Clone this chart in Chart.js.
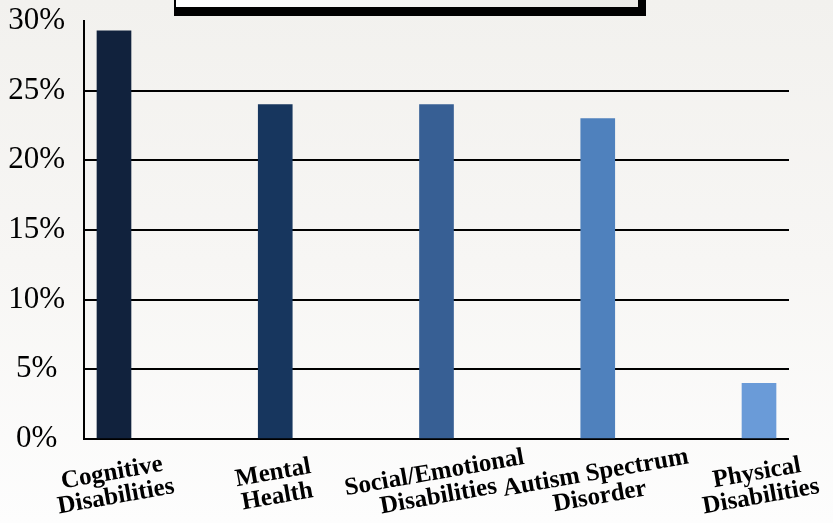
<!DOCTYPE html>
<html>
<head>
<meta charset="utf-8">
<script src="https://cdn.jsdelivr.net/npm/chart.js@4"></script>
<style>
  html, body { margin: 0; padding: 0; }
  body {
    width: 833px; height: 523px; overflow: hidden; position: relative;
    background: linear-gradient(to bottom, #f2f1ee 0%, #f7f6f4 50%, #fdfdfd 100%);
  }
  #wrap { position: absolute; left: 0; top: 0; width: 833px; height: 523px; }
  #titlebox {
    position: absolute; left: 174px; top: -30px; width: 462px; height: 37px;
    background: linear-gradient(to right, #ffffff, #ebeae6);
    border-left: 2px solid #000; border-right: 8px solid #000; border-bottom: 9px solid #000;
    z-index: 2;
  }
</style>
</head>
<body>
<div id="wrap"><canvas id="c" width="833" height="523"></canvas></div>
<div id="titlebox"></div>
<script>
const categories = [
  ['Cognitive', 'Disabilities'],
  ['Mental', 'Health'],
  ['Social/Emotional', 'Disabilities'],
  ['Autism Spectrum', 'Disorder'],
  ['Physical', 'Disabilities']
];
const values = [29.3, 24, 24, 23, 4];
const yMin = 0, yMax = 30, yStep = 5;
const barColors = ['#11223d', '#17365e', '#375f94', '#4f81bd', '#6a9bd8'];

const categoryLabels = {
  id: 'categoryLabels',
  afterDraw(chart) {
    const ctx = chart.ctx;
    const xs = chart.scales.x, ys = chart.scales.y;
    ctx.save();
    ctx.font = 'bold 25px "Liberation Serif", serif';
    ctx.fillStyle = '#000';
    ctx.textAlign = 'center';
    ctx.textBaseline = 'middle';
    categories.forEach((lines, i) => {
      const x = xs.getPixelForValue(i);
      const y = ys.bottom + 46;
      ctx.save();
      ctx.translate(x, y);
      ctx.rotate(-10 * Math.PI / 180);
      const lh = 24;
      const start = -(lines.length - 1) * lh / 2;
      lines.forEach((t, j) => ctx.fillText(t, 0, start + j * lh));
      ctx.restore();
    });
    ctx.restore();
  }
};

new Chart(document.getElementById('c'), {
  type: 'bar',
  data: {
    datasets: [{
      data: values.map((v, i) => ({ x: i, y: v })),
      backgroundColor: barColors,
      borderWidth: 0,
      barThickness: 34
    }]
  },
  options: {
    responsive: false,
    animation: false,
    devicePixelRatio: 1,
    layout: { padding: { top: 21, right: 44, bottom: 84, left: 0 } },
    plugins: { legend: { display: false }, tooltip: { enabled: false }, title: { display: false } },
    scales: {
      x: {
        type: 'linear',
        display: false,
        min: -0.186,
        max: 4.186,
        offset: false
      },
      y: {
        min: yMin, max: yMax,
        ticks: {
          stepSize: yStep,
          callback: v => v + '%',
          font: { family: '"Liberation Serif", serif', size: 31 },
          color: '#000',
          padding: 19,
          crossAlign: 'center'
        },
        grid: {
          color: ctx => (ctx.tick && ctx.tick.value === yMax) ? 'rgba(0,0,0,0)' : '#000',
          lineWidth: 2,
          drawTicks: false
        },
        border: { display: true, color: '#000', width: 2 },
        afterFit: s => { s.width = 84; s.paddingTop = 0; s.paddingBottom = 0; }
      }
    }
  },
  plugins: [categoryLabels]
});
</script>
</body>
</html>
